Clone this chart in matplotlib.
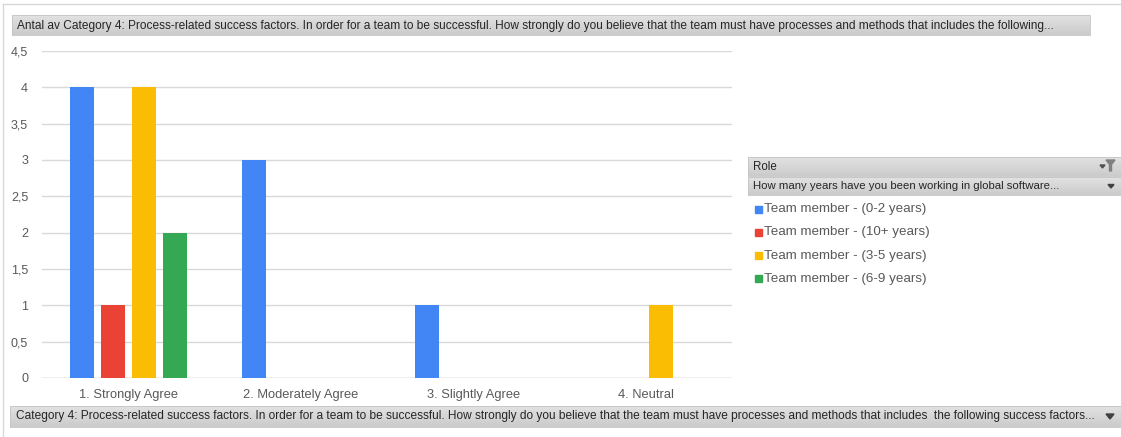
import numpy as np
import matplotlib
matplotlib.use("Agg")
import matplotlib.pyplot as plt
from matplotlib.patches import Rectangle, Polygon

# ---- data ----
categories = ["1. Strongly Agree", "2. Moderately Agree", "3. Slightly Agree", "4. Neutral"]
series_names = [
    "Team member - (0-2 years)",
    "Team member - (10+ years)",
    "Team member - (3-5 years)",
    "Team member - (6-9 years)",
]
vals_0_2 = [4, 3, 1, 0]
vals_10_plus = [1, 0, 0, 0]
vals_3_5 = [4, 0, 0, 1]
vals_6_9 = [2, 0, 0, 0]
y_ticks = [0, 0.5, 1, 1.5, 2, 2.5, 3, 3.5, 4, 4.5]
y_tick_labels = ["0", "0,5", "1", "1,5", "2", "2,5", "3", "3,5", "4", "4,5"]

header_text = ("Antal av Category 4: Process-related success factors. In order for a team to be successful. "
               "How strongly do you believe that the team must have processes and methods that includes the following...")
footer_text = ("Category 4: Process-related success factors. In order for a team to be successful. "
               "How strongly do you believe that the team must have processes and methods that includes  the following success factors...")
legend_title = "Role"
legend_subtitle = "How many years have you been working in global software..."

colors = ["#4285F4", "#EA4335", "#FBBC04", "#34A853"]
series = [vals_0_2, vals_10_plus, vals_3_5, vals_6_9]

W, H = 1121, 437
fig = plt.figure(figsize=(W / 100, H / 100), dpi=100)
fig.patch.set_facecolor("white")

# overlay canvas in pixel coordinates for the pivot-table field buttons
ov = fig.add_axes([0, 0, 1, 1], zorder=0)
ov.set_xlim(0, W)
ov.set_ylim(H, 0)
ov.axis("off")

grad = np.linspace(0, 1, 50).reshape(-1, 1)
btn_cmap = matplotlib.colors.LinearSegmentedColormap.from_list("btn", ["#E2E2E2", "#CBCBCB"])

def field_button(x0, y0, x1, y1):
    ov.imshow(grad, extent=(x0, x1, y1, y0), cmap=btn_cmap, aspect="auto", zorder=1,
              interpolation="bilinear")
    ov.add_patch(Rectangle((x0, y0), x1 - x0, y1 - y0, fill=False, edgecolor="#C4C4C4", lw=0.6, zorder=2))

# outer frame lines
ov.plot([3, W], [4, 4], color="#D8D8D8", lw=1, zorder=1)
ov.plot([3, 3], [4, H], color="#D8D8D8", lw=1, zorder=1)

txtfont = ["Liberation Sans", "DejaVu Sans"]

# header button
field_button(12, 15, 1090, 35)
ov.text(17, 25.5, header_text, fontsize=8.6, color="#262626", va="center", ha="left", family=txtfont, zorder=3)

# footer button
field_button(10, 406, W, 427)
ov.text(16, 416.5, footer_text, fontsize=8.55, color="#262626", va="center", ha="left", family=txtfont, zorder=3)
ov.add_patch(Polygon([[1106, 414], [1114, 414], [1110, 419]], closed=True, color="#404040", zorder=3))

# legend field buttons
field_button(748, 157, W, 176)
ov.text(753, 166.5, legend_title, fontsize=8.3, color="#262626", va="center", ha="left", family=txtfont, zorder=3)
# filter + dropdown glyph
ov.add_patch(Polygon([[1100, 165], [1105, 165], [1102.5, 168]], closed=True, color="#505050", zorder=3))
ov.add_patch(Polygon([[1106, 160], [1115, 160], [1111.5, 164.5], [1111.5, 171], [1109.5, 171], [1109.5, 164.5]],
                     closed=True, color="#808080", zorder=3))
field_button(748, 177, W, 195)
ov.text(753, 186, legend_subtitle, fontsize=8.2, color="#262626", va="center", ha="left", family=txtfont, zorder=3)
ov.add_patch(Polygon([[1108, 184.5], [1114, 184.5], [1111, 188]], closed=True, color="#404040", zorder=3))

# legend entries
for i, (name, c) in enumerate(zip(series_names, colors)):
    yc = 209 + i * 23.3
    ov.add_patch(Rectangle((755, yc - 3.5), 7, 7, color=c, zorder=3))
    ov.text(764, yc, name, fontsize=9.6, color="#595959", va="center", ha="left", family=txtfont, zorder=3)

# ---- chart ----
left, right = 42, 732
top, bottom = 51, 378
ax = fig.add_axes([left / W, (H - bottom) / H, (right - left) / W, (bottom - top) / H], zorder=2)
ax.set_facecolor("none")

x = np.arange(len(categories))
slot = 0.18
bw = 0.139
for i, (vals, c) in enumerate(zip(series, colors)):
    ax.bar(x + (i - 1.5) * slot, vals, width=bw, color=c, zorder=3, linewidth=0)

ax.set_xlim(-0.5, len(categories) - 0.5)
ax.set_ylim(0, 4.5)
ax.set_yticks(y_ticks)
ax.set_yticklabels(y_tick_labels, fontsize=9, color="#595959", family=txtfont)
ax.set_xticks(x)
ax.set_xticklabels(categories, fontsize=9.3, color="#595959", family=txtfont)
ax.tick_params(axis="both", length=0)
ax.tick_params(axis="y", pad=10)
ax.tick_params(axis="x", pad=8)
ax.grid(axis="y", color="#D9D9D9", lw=1, zorder=0)
ax.set_axisbelow(True)
for s in ax.spines.values():
    s.set_visible(False)
ax.axhline(0, color="#D0D0D0", lw=1, zorder=2)

fig.savefig("out.png", dpi=100, facecolor="white")
